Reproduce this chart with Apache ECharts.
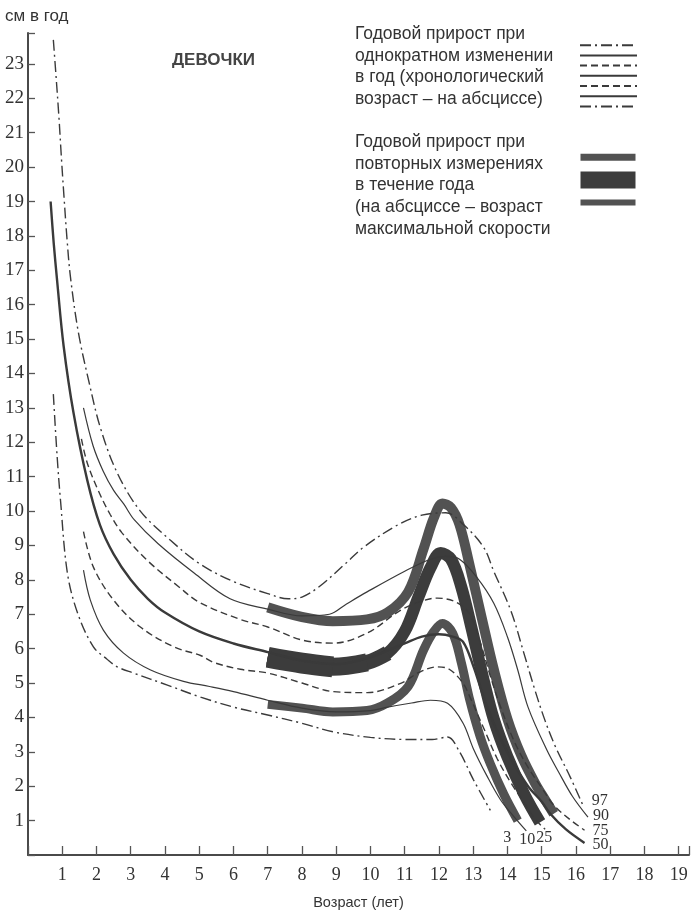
<!DOCTYPE html>
<html>
<head>
<meta charset="utf-8">
<script src="https://cdn.jsdelivr.net/npm/echarts@6/dist/echarts.min.js"></script>
<style>
html,body{margin:0;padding:0;background:#fff;}
#chart{width:692px;height:917px;}
</style>
</head>
<body>
<div id="chart"></div>
<script>
// ---- Data (age in years, growth velocity in cm/year) ----
const p97 = [[0.74,23.7],[0.8,22.9],[0.9,21.5],[0.98,20.2],[1.04,19.3],[1.14,17.9],[1.24,16.8],[1.47,15.2],[1.77,13.8],[2.12,12.4],[2.61,11.1],[3.28,10.0],[4.16,9.15],[5.04,8.45],[6.0,7.95],[7.0,7.6],[7.6,7.45],[8.0,7.5],[8.5,7.8],[9.3,8.5],[9.8,8.95],[10.8,9.6],[11.5,9.88],[12.2,9.95],[12.7,9.62],[13.3,8.95],[13.6,8.25],[14.1,7.1],[14.47,5.9],[14.8,4.8],[15.1,3.9],[15.4,3.15],[15.84,2.25],[16.2,1.45]];
const p90 = [[1.62,13.0],[1.9,11.9],[2.2,11.15],[2.5,10.6],[2.8,10.2],[3.1,9.75],[3.8,9.05],[4.85,8.2],[5.9,7.45],[7.0,7.15],[8.0,6.95],[8.8,7.0],[9.3,7.3],[9.9,7.65],[11.0,8.25],[11.75,8.6],[12.2,8.68],[12.6,8.6],[13.1,8.08],[13.6,7.32],[14.0,6.34],[14.3,5.38],[14.6,4.3],[15.15,3.05],[15.5,2.4],[15.9,1.7],[16.35,1.1]];
const p75 = [[1.56,12.1],[1.73,11.4],[2.05,10.6],[2.4,9.9],[2.75,9.36],[3.5,8.55],[4.4,7.8],[5.0,7.35],[6.2,6.85],[7.0,6.63],[8.0,6.25],[8.9,6.16],[9.9,6.45],[10.85,7.1],[11.4,7.35],[11.95,7.47],[12.5,7.35],[12.9,7.0],[13.2,6.2],[13.5,5.2],[13.8,4.3],[14.2,3.3],[14.6,2.55],[15.0,1.95],[15.35,1.45],[15.8,1.05],[16.25,0.72]];
const p50 = [[0.66,19.0],[0.75,17.8],[0.85,16.7],[1.04,14.8],[1.33,12.85],[1.73,10.9],[2.1,9.6],[2.5,8.75],[3.0,8.0],[3.5,7.45],[4.0,7.05],[5.0,6.5],[6.0,6.15],[7.0,5.9],[8.0,5.65],[9.0,5.55],[10.0,5.75],[10.5,5.95],[11.0,6.15],[11.5,6.35],[12.0,6.42],[12.4,6.35],[12.7,6.2],[13.0,5.5],[13.3,4.6],[13.7,3.6],[14.1,2.8],[14.6,2.0],[15.0,1.55],[15.25,1.2],[15.7,0.75],[16.25,0.35]];
const p25 = [[1.62,9.4],[1.91,8.37],[2.5,7.41],[3.28,6.63],[4.26,6.05],[5.04,5.8],[5.42,5.6],[6.2,5.4],[7.0,5.29],[8.0,5.0],[8.92,4.75],[9.9,4.72],[10.9,5.0],[11.4,5.3],[11.95,5.47],[12.3,5.4],[12.7,5.0],[12.9,4.6],[13.3,3.7],[13.7,2.8],[14.1,2.1],[14.5,1.5],[14.8,1.05],[15.1,0.75]];
const p10 = [[1.62,8.28],[1.82,7.41],[2.2,6.54],[2.79,5.87],[3.58,5.38],[4.54,5.05],[5.3,4.9],[6.0,4.75],[7.0,4.5],[8.0,4.27],[9.0,4.16],[10.0,4.2],[10.5,4.3],[11.2,4.42],[11.75,4.5],[12.25,4.41],[12.7,3.84],[13.0,3.1],[13.4,2.3],[13.8,1.6],[14.2,1.1],[14.55,0.7]];
const p3 = [[0.74,13.4],[0.85,11.6],[0.95,10.3],[1.15,8.2],[1.45,7.03],[1.91,6.05],[2.3,5.7],[2.61,5.47],[3.08,5.29],[4.07,4.94],[5.04,4.59],[6.0,4.3],[7.0,4.07],[7.96,3.84],[8.92,3.58],[10.0,3.42],[11.0,3.36],[11.8,3.36],[12.25,3.43],[12.6,3.0],[13.0,2.2],[13.5,1.3]];

// repeated measurements (peak-velocity aligned) bands
const bandHigh = [[7.0,7.2],[8.0,6.92],[8.9,6.8],[9.9,6.85],[10.5,7.05],[11.1,7.65],[11.55,8.9],[11.85,9.8],[12.1,10.22],[12.35,10.1],[12.6,9.6],[12.9,8.4],[13.27,6.8],[13.6,5.4],[14.0,3.95],[14.4,2.9],[14.8,2.1],[15.1,1.6],[15.35,1.2]];
const bandMid = [[7.0,5.75],[8.0,5.58],[8.9,5.47],[9.9,5.6],[10.5,5.87],[11.0,6.5],[11.4,7.5],[11.75,8.35],[12.05,8.78],[12.35,8.6],[12.65,7.8],[12.95,6.6],[13.3,5.1],[13.6,3.95],[14.0,2.85],[14.5,1.75],[14.95,0.95]];
const bandLow = [[7.0,4.38],[8.0,4.27],[8.9,4.16],[9.9,4.2],[10.5,4.42],[11.1,4.9],[11.55,5.96],[11.85,6.5],[12.1,6.73],[12.4,6.45],[12.65,5.6],[12.9,4.5],[13.2,3.45],[13.5,2.65],[13.9,1.75],[14.3,1.0]];

// tick labels
const xTicks = [1,2,3,4,5,6,7,8,9,10,11,12,13,14,15,16,17,18,19];
const yTicks = [1,2,3,4,5,6,7,8,9,10,11,12,13,14,15,16,17,18,19,20,21,22,23];

const INK = '#3a3a3a';
const DASHDOT = [11,4,2,4];
const DASH = [7,4];
const labelFont = {fontFamily:'Liberation Serif', fontSize:16, color:'#333', align:'left', verticalAlign:'middle'};

function pLine(name, data, type, width, lbl, off){
  return {
    name, type:'line', data, smooth:0.35, symbol:'none', z:5,
    lineStyle:{color:INK, width, type},
    endLabel:Object.assign({show:true, formatter:lbl, offset:off, distance:5}, labelFont),
    emphasis:{disabled:true}, silent:true
  };
}
function band(name, data, width, color, z){
  return {
    name, type:'line', data, smooth:0.35, symbol:'none', z:z||3,
    lineStyle:{color, width, cap:'butt', join:'round'},
    emphasis:{disabled:true}, silent:true
  };
}

const bandNames = ['Повторные измерения: верхняя','Повторные измерения: средняя','Повторные измерения: нижняя'];

const chart = echarts.init(document.getElementById('chart'), null, {renderer:'canvas'});
chart.setOption({
  backgroundColor:'#fff',
  animation:false,
  grid:{left:28, right:3, top:33, bottom:62, containLabel:false, outerBoundsMode:'none'},
  xAxis:{
    type:'value', min:0, max:19.3, interval:1,
    name:'Возраст (лет)', nameLocation:'middle', nameGap:40,
    nameTextStyle:{fontFamily:'Liberation Sans', fontSize:14.5, color:'#333'},
    axisLine:{show:true, lineStyle:{color:'#4a4a4a', width:2}},
    axisTick:{show:true, inside:true, length:9, lineStyle:{color:'#555', width:1.3}},
    axisLabel:{margin:11, fontFamily:'Liberation Serif', fontSize:18, color:'#333',
      formatter:v => xTicks.indexOf(v) >= 0 ? String(v) : ''},
    splitLine:{show:false}
  },
  yAxis:{
    type:'value', min:0, max:23.9, interval:1,
    axisLine:{show:true, lineStyle:{color:'#4a4a4a', width:2}},
    axisTick:{show:true, inside:true, length:7, lineStyle:{color:'#555', width:1.3}},
    axisLabel:{margin:4, fontFamily:'Liberation Serif', fontSize:19, color:'#333',
      formatter:v => yTicks.indexOf(v) >= 0 ? String(v) : ''},
    splitLine:{show:false}
  },
  legend:[
    {data:['97','90','75','50','25','10','3'], orient:'vertical', left:574, top:37,
     itemWidth:57, itemHeight:8, itemGap:3.8, selectedMode:false,
     itemStyle:{opacity:0},
     formatter:() => '', textStyle:{fontSize:1, lineHeight:1}},
    {data:[{name:bandNames[0], lineStyle:{width:7}},{name:bandNames[1], lineStyle:{width:17}},{name:bandNames[2], lineStyle:{width:6}}],
     orient:'vertical', left:567, top:145, itemWidth:55, itemHeight:18, itemGap:7, selectedMode:false,
     itemStyle:{opacity:0},
     formatter:() => '', textStyle:{fontSize:1, lineHeight:1}}
  ],
  graphic:[
    {type:'text', left:5, top:8, style:{text:'см в год', fontFamily:'Liberation Sans', fontSize:17, fill:'#333'}},
    {type:'text', left:172, top:52, style:{text:'ДЕВОЧКИ', fontFamily:'Liberation Sans', fontSize:17, fontWeight:'bold', fill:'#444'}},
    {type:'text', left:355, top:23, style:{text:'Годовой прирост при\nоднократном изменении\nв год (хронологический\nвозраст – на абсциссе)', fontFamily:'Liberation Sans', fontSize:17.5, lineHeight:21.8, fill:'#333'}},
    {type:'text', left:355, top:131, style:{text:'Годовой прирост при\nповторных измерениях\nв течение года\n(на абсциссе – возраст\nмаксимальной скорости', fontFamily:'Liberation Sans', fontSize:17.5, lineHeight:21.8, fill:'#333'}}
  ],
  series:[
    band(bandNames[0], bandHigh, 10, '#525252', 3),
    band(bandNames[1], bandMid, 12, '#3c3c3c', 3),
    band('mid-wide-1', bandMid.filter(p => p[0] <= 10.5), 15, '#3c3c3c', 3),
    band('mid-wide-2', bandMid.filter(p => p[0] <= 9.9), 18, '#3c3c3c', 3),
    band('mid-wide-3', bandMid.filter(p => p[0] <= 8.9), 21, '#3c3c3c', 3),
    band(bandNames[2], bandLow, 9, '#525252', 3),
    pLine('97', p97, DASHDOT, 1.4, '97', [4,-4]),
    pLine('90', p90, 'solid', 1.2, '90', [0,-1]),
    pLine('75', p75, DASH, 1.4, '75', [3,1]),
    pLine('50', p50, 'solid', 2.4, '50', [3,2]),
    pLine('25', p25, DASH, 1.4, '25', [-14,9]),
    pLine('10', p10, 'solid', 1.2, '10', [-12,9]),
    pLine('3', p3, DASHDOT, 1.4, '3', [8,28])
  ]
});
</script>
</body>
</html>
